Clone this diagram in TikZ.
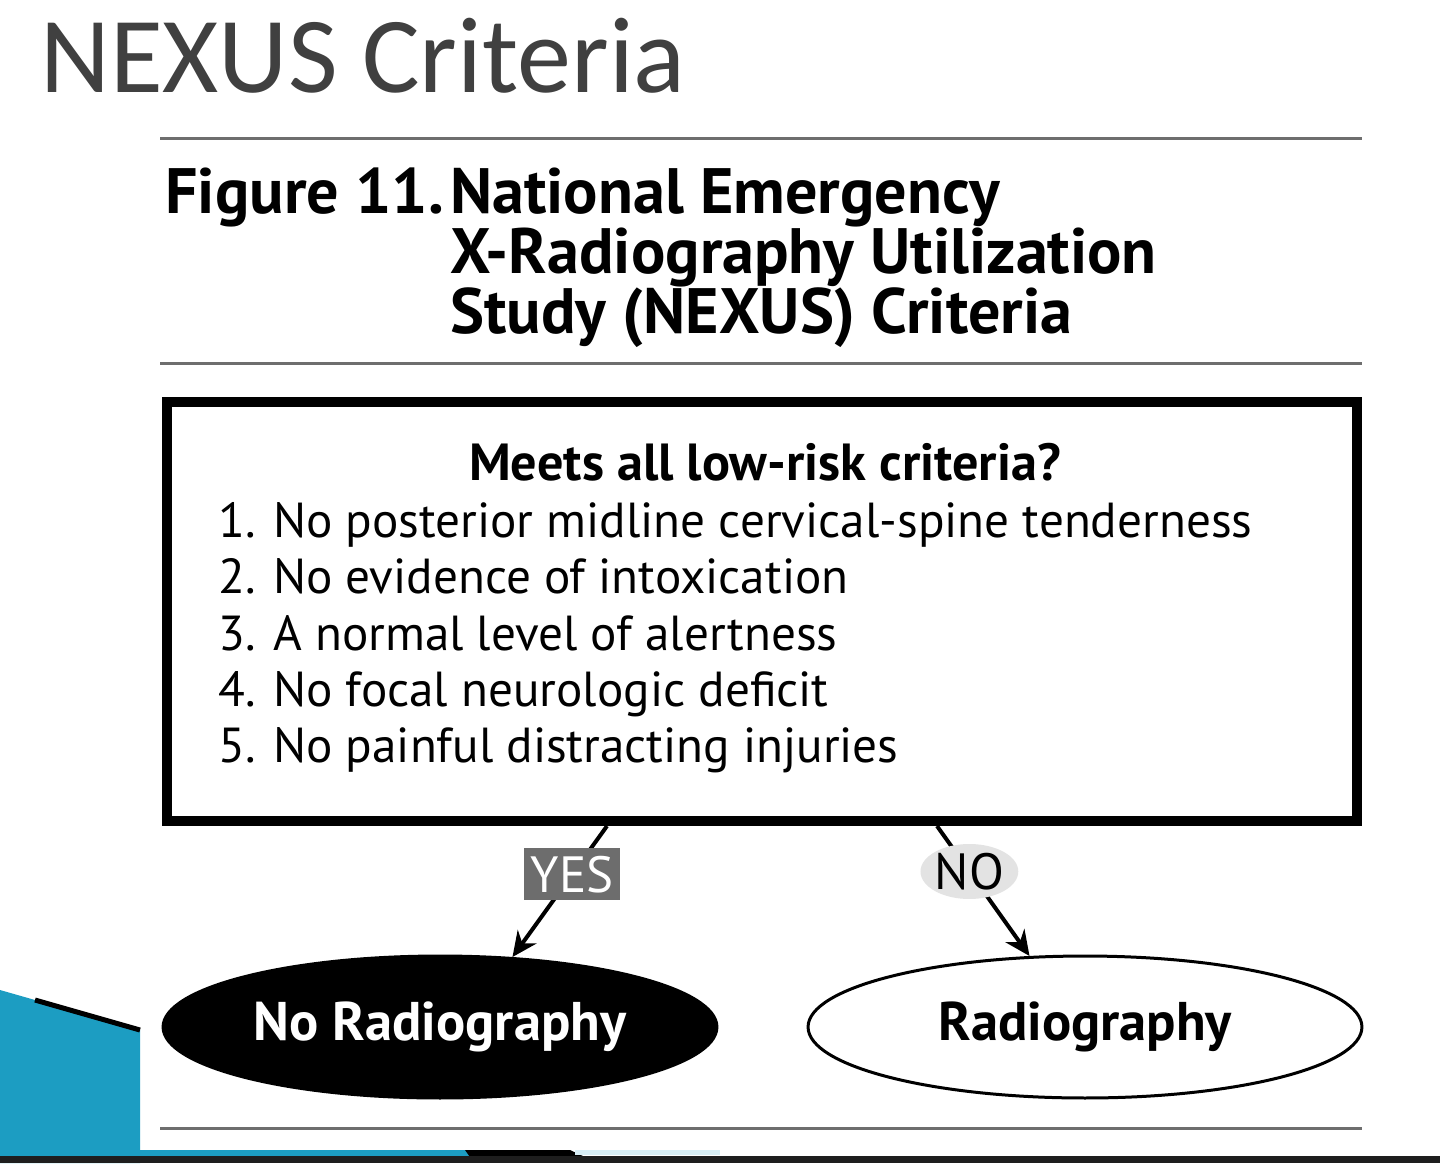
\documentclass[tikz,border=0pt]{standalone}
\usepackage{fontspec}
\setmainfont{PT Sans}
\newfontfamily\titlefont{Carlito}
\usetikzlibrary{positioning, arrows.meta, shapes.geometric}

\definecolor{titlegray}{HTML}{404040}
\definecolor{rulegray}{HTML}{6E6E6E}
\definecolor{yesgray}{HTML}{6D6D6D}
\definecolor{nogray}{HTML}{E3E3E3}
\definecolor{slideblue}{HTML}{1C9DC2}
\definecolor{paleblue}{HTML}{D8EEF5}
\definecolor{bandgray}{HTML}{1E1E1E}

\begin{document}
\begin{tikzpicture}[x=0.02cm, y=-0.02cm,
    heading/.style={font=\fontsize{36.5}{42}\selectfont\bfseries, anchor=base west, inner sep=0},
    item/.style={font=\fontsize{28}{32}\selectfont, anchor=base west, inner sep=0},
    rule/.style={rulegray, line width=0.06cm},
    decision/.style={ellipse, draw=black, line width=0.06cm, minimum width=11.08cm, minimum height=2.84cm, inner sep=0, font=\fontsize{31}{36}\selectfont\bfseries},
    flow/.style={-{Stealth[length=0.5cm, width=0.46cm]}, line width=0.08cm}]

    % Page
    \fill[white] (0,0) rectangle (1440,1163);

    % Slide corner
    \fill[slideblue] (0,990) -- (140,1030) -- (140,1163) -- (0,1163) -- cycle;
    \draw[line width=0.1cm] (35,1000) -- (140,1030);
    \fill[slideblue] (0,1150) rectangle (470,1157);
    \fill[black] (465,1150) -- (570,1150) -- (585,1157) -- (470,1157) -- cycle;
    \fill[paleblue] (575,1150) rectangle (720,1155);
    \fill[bandgray] (0,1156) rectangle (1440,1163);

    % Title
    \node[anchor=base west, inner sep=0, text=titlegray, font=\titlefont\fontsize{61.5}{70}\selectfont] (title) at (40,92) {NEXUS Criteria};

    % Figure caption
    \draw[rule] (160,138) -- (1362,138);
    \node[heading] (figlabel) at (165,213) {Figure 11.};
    \node[heading] (figline1) at (450,213) {National Emergency};
    \node[heading] (figline2) at (450,273) {X-Radiography Utilization};
    \node[heading] (figline3) at (450,333) {Study (NEXUS) Criteria};
    \draw[rule] (160,363) -- (1362,363);

    % Criteria box
    \node[draw, line width=0.2cm, minimum width=23.8cm, minimum height=8.38cm] (criteria) at (762,611.5) {};
    \node[anchor=base, inner sep=0, font=\fontsize{29.7}{34}\selectfont\bfseries] (question) at (765,480) {Meets all low-risk criteria?};
    \node[item] (item1) at (218,537) {1. No posterior midline cervical-spine tenderness};
    \node[item] (item2) at (218,593) {2. No evidence of intoxication};
    \node[item] (item3) at (218,650) {3. A normal level of alertness};
    \node[item] (item4) at (218,706) {4. No focal neurologic deficit};
    \node[item] (item5) at (218,762) {5. No painful distracting injuries};

    % Outcomes
    \node[decision, fill=black, text=white] (noradio) at (440,1027) {No Radiography};
    \node[decision, fill=white] (radio) at (1085,1027) {Radiography};

    % Branches
    \coordinate (yesfoot) at (607,826);
    \coordinate (nofoot) at (937,826);
    \draw[flow] (yesfoot) -- node[pos=0.37, fill=yesgray, text=white, minimum width=1.92cm, minimum height=1.04cm, inner sep=0, font=\fontsize{29}{32}\selectfont] (yes) {YES} (noradio.44);
    \draw[flow] (nofoot) -- node[pos=0.35, ellipse, fill=nogray, minimum width=1.9cm, minimum height=1.1cm, inner sep=0, font=\fontsize{29}{32}\selectfont] (no) {NO} (radio.128);

    \draw[rule] (160,1128) -- (1362,1128);

\end{tikzpicture}
\end{document}
